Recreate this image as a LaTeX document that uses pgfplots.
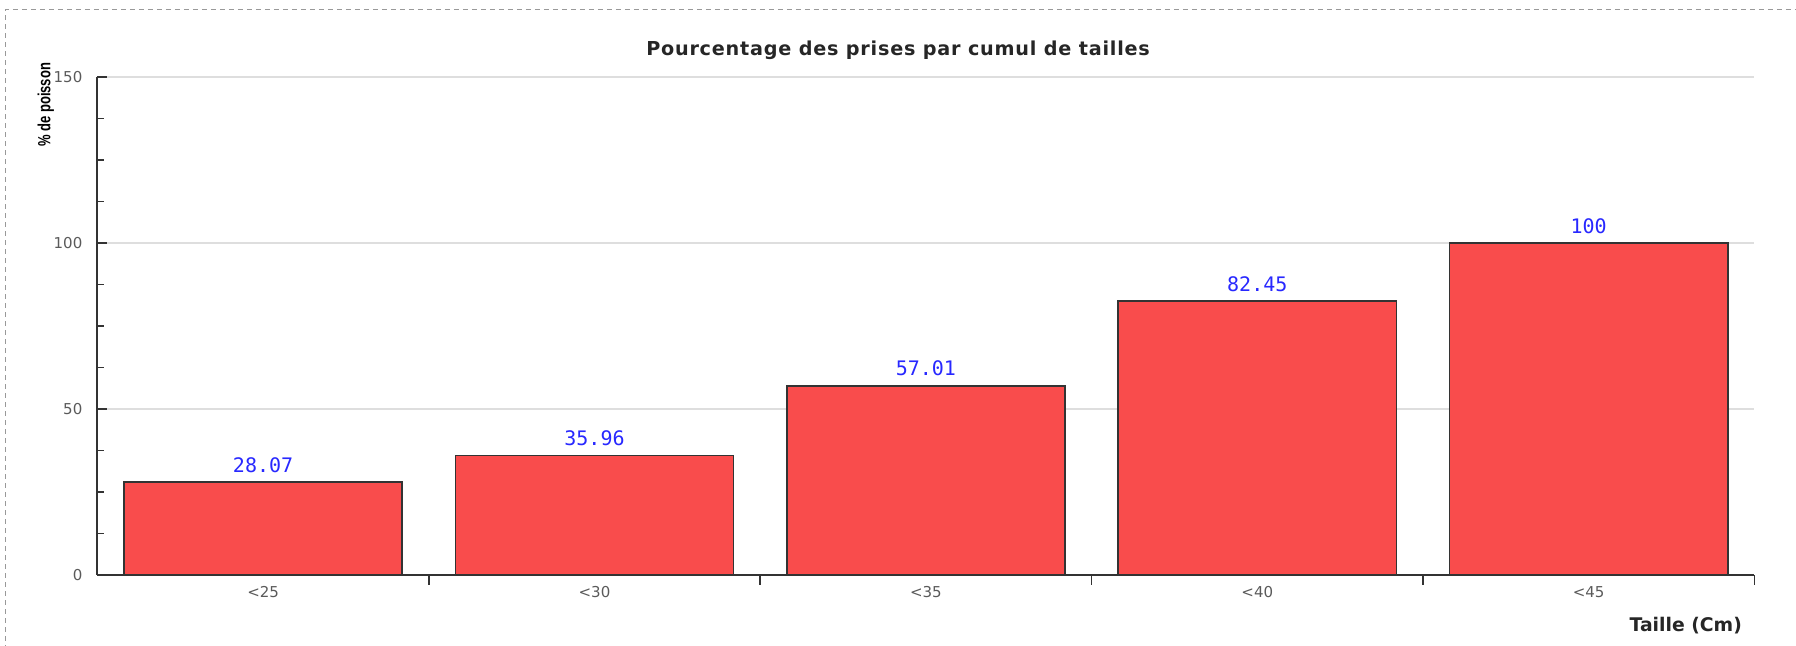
\documentclass[border=0pt]{standalone}
\usepackage{fontspec}
\usepackage{pgfplots}
\pgfplotsset{compat=1.18}
\setmainfont{DejaVu Sans}
\newfontfamily\monofont{DejaVu Sans Mono}
\newfontfamily\titlefont[LetterSpace=4]{DejaVu Sans}
\newfontfamily\narrowbold[FakeStretch=0.74]{Liberation Sans}
\definecolor{barred}{RGB}{249,76,76}
\definecolor{lblblue}{RGB}{40,40,255}
\definecolor{tickgray}{RGB}{90,90,90}
\definecolor{axisdark}{RGB}{51,51,51}
\begin{document}
\begin{tikzpicture}
\path[use as bounding box] (-48.7pt,-35.5pt) rectangle (849.3pt,287.5pt);
\draw[gray!80, dash pattern=on 2.5pt off 2pt, line width=0.6pt] (-45.85pt,-60pt) -- (-45.85pt,282.9pt) -- (900pt,282.9pt);
\begin{axis}[
  scale only axis,
  width=828.5pt, height=249pt,
  xmin=-0.5, xmax=4.5,
  ymin=0, ymax=150,
  axis lines=left,
  axis line style={-, line width=1pt, draw=axisdark},
  tick align=inside,
  ytick={0,50,100,150},
  minor y tick num=3,
  major tick length=5pt,
  minor tick length=3.5pt,
  tick style={line width=0.8pt, draw=axisdark},
  ymajorgrids,
  grid style={line width=0.7pt, draw=black!13},
  xtick={0.5,1.5,2.5,3.5,4.5},
  xticklabels={<25,<30,<35,<40,<45},
  xticklabel style={xshift=-82.85pt, yshift=2.7pt},
  yticklabel style={xshift=-4pt},
  tick label style={font=\fontsize{7.5}{9}\selectfont, text=tickgray},
  /pgf/number format/assume math mode=true,
  ylabel={\% de poisson},
  ylabel style={at={(axis description cs:-0.0311,0.944)}, anchor=center, rotate=0, font=\narrowbold\bfseries\fontsize{8.8}{10}\selectfont},
  xlabel={Taille (Cm)},
  xlabel style={at={(axis description cs:0.9967,-0.101)}, anchor=east, font=\bfseries\fontsize{9.4}{11}\selectfont, text=black!85},
  every axis title shift=0pt,
  title={Pourcentage des prises par cumul de tailles},
  title style={at={(axis description cs:0.4832,1.0534)}, anchor=center, font=\titlefont\bfseries\fontsize{9.6}{11}\selectfont, text=black!85},
  ybar,
  bar width=0.84,
  point meta=explicit symbolic,
  nodes near coords,
  nodes near coords style={font=\monofont\fontsize{10}{12}\selectfont, text=lblblue, anchor=south, yshift=1pt},
  clip=false,
]
\addplot[fill=barred, draw=axisdark, line width=0.8pt] coordinates {
  (0,28.07) [28.07]
  (1,35.96) [35.96]
  (2,57.01) [57.01]
  (3,82.45) [82.45]
  (4,100) [100]
};
\end{axis}
\end{tikzpicture}
\end{document}
